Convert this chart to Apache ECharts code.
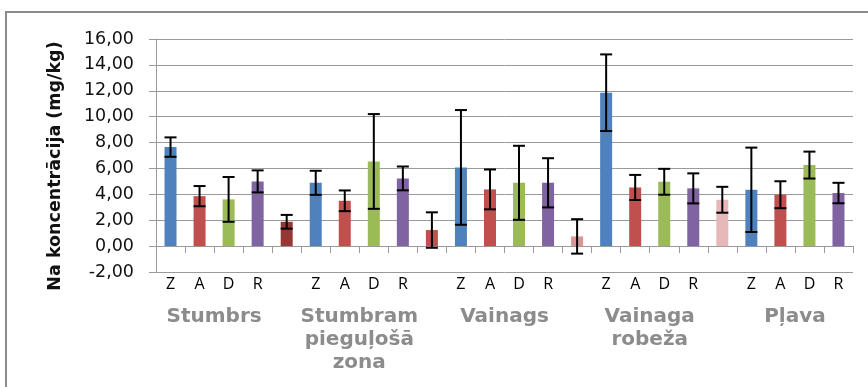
<!DOCTYPE html>
<html>
<head>
<meta charset="utf-8">
<script src="https://cdn.jsdelivr.net/npm/echarts@6/dist/echarts.min.js"></script>
<style>
html,body{margin:0;padding:0;background:#fff;}
#chart{width:868px;height:387px;}
</style>
</head>
<body>
<div id="chart"></div>
<script>
// slot labels (empty slots are the separator bars)
const slotLabels = ['Z','A','D','R','', 'Z','A','D','R','', 'Z','A','D','R','', 'Z','A','D','R','', 'Z','A','D','R'];
const groupNames = ['Stumbrs', 'Stumbram\npieguļošā\nzona', 'Vainags', 'Vainaga\nrobeža', 'Pļava'];
const groupCenters = [2, 7, 12, 17, 22];
const values = [7.65, 3.86, 3.61, 5.00, 1.88,
                4.89, 3.50, 6.54, 5.23, 1.24,
                6.08, 4.38, 4.89, 4.89, 0.75,
                11.85, 4.53, 4.97, 4.46, 3.58,
                4.35, 3.97, 6.26, 4.10];
const errors = [0.75, 0.78, 1.73, 0.85, 0.53,
                0.93, 0.80, 3.66, 0.92, 1.37,
                4.43, 1.54, 2.86, 1.90, 1.33,
                2.96, 0.97, 1.00, 1.16, 1.00,
                3.26, 1.04, 1.04, 0.79];
const yTicks = {min: -2, max: 16, interval: 2};

const palette = {Z:'#4f81bd', A:'#c0504d', D:'#9bbb59', R:'#8064a2'};
const sepColors = ['#953735', '#c0504d', '#d99694', '#e6b9b8'];

let sepIdx = 0;
const barData = values.map((v, i) => {
  const lab = slotLabels[i];
  const color = lab ? palette[lab] : sepColors[sepIdx++];
  return {value: v, itemStyle: {color: color}};
});
const errData = values.map((v, i) => [i, v - errors[i], v + errors[i]]);

const chart = echarts.init(document.getElementById('chart'), null, {renderer: 'canvas'});
const gridColor = '#9a9a9a';
chart.setOption({
  animation: false,
  backgroundColor: '#ffffff',
  graphic: [
    {type: 'rect', shape: {x: 6, y: 12, width: 900, height: 500},
     style: {fill: 'none', stroke: '#8c8c8c', lineWidth: 2}, silent: true, z: -1},
    {type: 'text', x: 55, y: 166, rotation: Math.PI / 2,
     style: {text: 'Na koncentrācija (mg/kg)', font: 'bold 17.5px "DejaVu Sans"', fill: '#111',
             align: 'center', verticalAlign: 'middle'}}
  ],
  grid: {left: 156, right: 15, top: 39, bottom: 115, containLabel: false},
  xAxis: [
    {type: 'category', data: slotLabels, gridIndex: 0, boundaryGap: true,
     axisLine: {show: true, onZero: true, lineStyle: {color: gridColor, width: 1}},
     axisTick: {show: true, interval: 0, length: 7, lineStyle: {color: gridColor}},
     axisLabel: {show: false}, splitLine: {show: false}},
    {type: 'category', data: slotLabels, gridIndex: 0, position: 'bottom', boundaryGap: true,
     axisLine: {show: false, onZero: false}, axisTick: {show: false},
     axisLabel: {show: true, interval: 0, margin: 4, color: '#000',
                 fontFamily: '"Open Sans"', fontSize: 16}},
    {type: 'value', min: 0, max: 24, gridIndex: 0, position: 'bottom',
     axisLine: {show: false, onZero: false}, axisTick: {show: false}, splitLine: {show: false},
     axisLabel: {show: true, customValues: groupCenters, margin: 33, color: '#8c8c8c',
                 fontFamily: '"DejaVu Sans"', fontWeight: 'bold', fontSize: 20, lineHeight: 23,
                 formatter: function (v) { const k = groupCenters.indexOf(v); return k >= 0 ? groupNames[k] : ''; }}}
  ],
  yAxis: {
    type: 'value', min: yTicks.min, max: yTicks.max, interval: yTicks.interval,
    axisLine: {show: true, lineStyle: {color: gridColor}},
    axisTick: {show: true, length: 7, lineStyle: {color: gridColor}},
    splitLine: {show: true, lineStyle: {color: gridColor, width: 1}},
    axisLabel: {margin: 22, color: '#111', fontFamily: '"DejaVu Sans"', fontSize: 17.5,
                formatter: v => v.toFixed(2).replace('.', ',')}
  },
  series: [
    {type: 'bar', xAxisIndex: 0, data: barData, barWidth: 12},
    {type: 'custom', xAxisIndex: 0, data: errData, z: 5,
     renderItem: function (params, api) {
       const x = api.value(0);
       const lo = api.coord([x, api.value(1)]);
       const hi = api.coord([x, api.value(2)]);
       const hw = 6;
       const st = {stroke: '#000', lineWidth: 2};
       return {type: 'group', children: [
         {type: 'line', shape: {x1: lo[0], y1: lo[1], x2: hi[0], y2: hi[1]}, style: st},
         {type: 'line', shape: {x1: hi[0] - hw, y1: hi[1], x2: hi[0] + hw, y2: hi[1]}, style: st},
         {type: 'line', shape: {x1: lo[0] - hw, y1: lo[1], x2: lo[0] + hw, y2: lo[1]}, style: st}
       ]};
     }}
  ]
});
</script>
</body>
</html>
